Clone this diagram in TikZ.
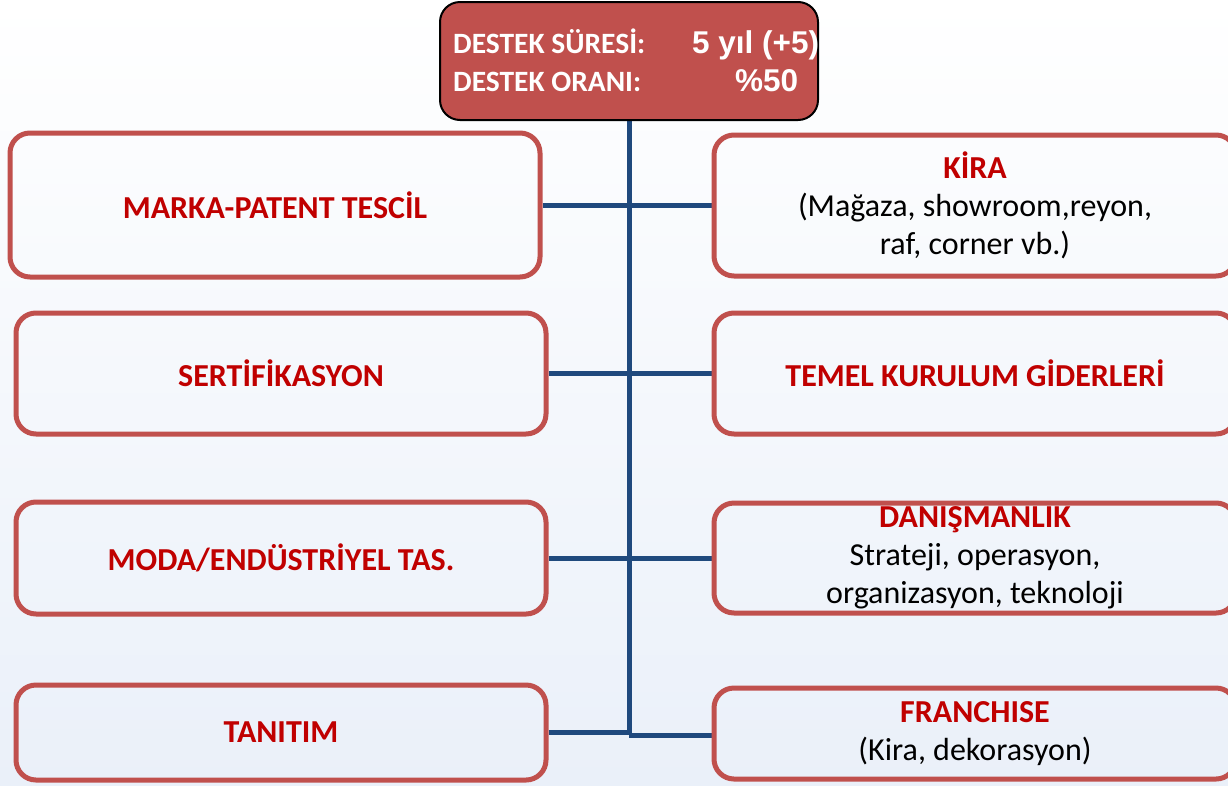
\documentclass[tikz,border=0pt]{standalone}
\usepackage{fontspec}
\setmainfont{Carlito}
\newfontfamily\arialfont{Liberation Sans}
\usetikzlibrary{backgrounds}
\definecolor{boxred}{HTML}{C0504D}
\definecolor{textred}{HTML}{C00000}
\definecolor{linkblue}{HTML}{1F497D}
\definecolor{bgbottom}{HTML}{EAF0F9}
\begin{document}
\begin{tikzpicture}[x=1pt,y=1pt,
  itembox/.style={draw=boxred, line width=5pt, rounded corners=20pt, minimum width=530pt,
    align=center, font=\fontsize{32}{38}\selectfont, inner sep=0pt},
  rightbox/.style={itembox, minimum width=522pt},
  headbox/.style={draw=black, line width=2pt, rounded corners=20pt, fill=boxred,
    minimum width=378pt, minimum height=118pt},
  headtext/.style={text=white, font=\fontsize{29.5}{34}\selectfont\bfseries, anchor=base west, inner sep=0pt},
  headvalue/.style={text=white, font=\fontsize{31.5}{34}\selectfont\arialfont\bfseries, anchor=base west, inner sep=0pt},
  link/.style={draw=linkblue, line width=5pt}]
\useasboundingbox (0,0) rectangle (1228,-785);
\clip (0,0) rectangle (1228,-785);

\node[headbox] (head) at (629,-61) {};
\node[headtext] (h1) at (453,-53) {DESTEK SÜRESİ:};
\node[headtext] (h2) at (453,-91) {DESTEK ORANI:};
\node[headvalue] (v1) at (692,-53) {5 yıl (+5)};
\node[headvalue] (v2) at (735,-91) {\%50};

\node[itembox, minimum height=144pt] (l1) at (275,-205) {\textcolor{textred}{\bfseries MARKA-PATENT TESCİL}};
\node[itembox, minimum height=121pt] (l2) at (281,-373.5) {\textcolor{textred}{\bfseries SERTİFİKASYON}};
\node[itembox, minimum height=112pt] (l3) at (281,-558) {\textcolor{textred}{\bfseries MODA/ENDÜSTRİYEL TAS.}};
\node[itembox, minimum height=95pt] (l4) at (281,-732.5) {\textcolor{textred}{\bfseries TANITIM}};

\node[rightbox, minimum height=141pt] (r1) at (975,-205.5) {\textcolor{textred}{\bfseries KİRA}\\(Mağaza, showroom,reyon,\\raf, corner vb.)};
\node[rightbox, minimum height=121pt] (r2) at (975,-373.5) {\textcolor{textred}{\bfseries TEMEL KURULUM GİDERLERİ}};
\node[rightbox, minimum height=110pt] (r3) at (975,-558) {\textcolor{textred}{\bfseries DANIŞMANLIK}\\Strateji, operasyon,\\organizasyon, teknoloji};
\node[rightbox, minimum height=91pt] (r4) at (975,-733.5) {\textcolor{textred}{\bfseries FRANCHISE}\\(Kira, dekorasyon)};

\coordinate (j4) at (629,-735);
\begin{pgfonlayer}{background}
\shade[top color=white, bottom color=bgbottom] (0,0) rectangle (1228,-785);
\draw[link] (head.south) -- (j4);
\draw[link] (l1.east) -- (l1.east -| r1.west);
\draw[link] (l2.east) -- (l2.east -| r2.west);
\draw[link] (l3.east) -- (l3.east -| r3.west);
\draw[link] (l4.east) -- (l4.east -| j4);
\draw[link] (j4) -- (j4 -| r4.west);
\end{pgfonlayer}
\end{tikzpicture}
\end{document}
